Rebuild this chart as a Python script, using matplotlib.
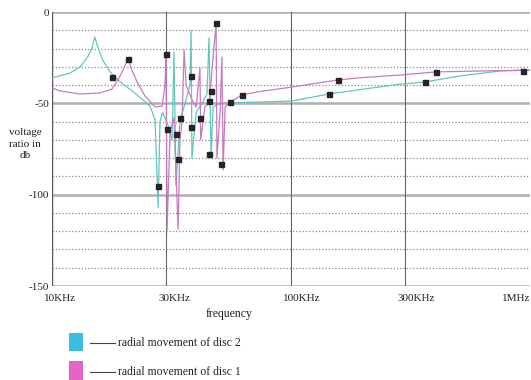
import matplotlib
matplotlib.use('Agg')
from matplotlib import pyplot as plt
from matplotlib.patches import Rectangle
from matplotlib.lines import Line2D

plt.rcParams['font.family'] = ['Liberation Serif', 'DejaVu Serif']

# radial movement of disc 2 (cyan), frequency in kHz, level in dB
disc2_khz = [10, 11.9, 13.1, 14.1, 14.7, 15.1, 15.6, 16.3, 17.5, 19.3, 22.2, 25.7, 27.0, 27.8,
             28.3, 29.0, 30.6, 31.8, 32.4, 33.0, 34.3, 36.4, 37.8, 38.2, 38.5, 40.1, 42.4, 44.5,
             45.4, 46.3, 47.2, 50.5, 55.6, 62.4, 74.2, 100.9, 144, 194, 286, 364, 509, 749, 1000]
disc2_db = [-36.1, -33.4, -30.1, -24.6, -19.7, -13.7, -19.7, -26.3, -32.8, -38.3, -44.3, -51.5,
            -59.1, -107.0, -60.0, -55.0, -62.0, -70.0, -22.0, -94.7, -60.0, -48.0, -40.0, -9.9,
            -80.0, -55.0, -50.0, -45.0, -14.2, -79.9, -52.0, -50.0, -49.8, -49.5, -49.3, -48.7,
            -44.9, -42.5, -39.5, -38.3, -35.0, -32.3, -31.8]

# radial movement of disc 1 (magenta)
disc1_khz = [10, 10.8, 13.1, 15.9, 17.8, 18.9, 19.8, 20.8, 21.6, 22.7, 24.5, 27.0, 28.9, 29.7,
             30.0, 30.3, 31.2, 32.4, 33.7, 34.3, 35.0, 35.7, 36.4, 38.5, 40.1, 41.6, 41.9, 43.6,
             45.4, 48.6, 49.0, 50.5, 51.4, 52.0, 53.0, 55.6, 62.4, 74.2, 100.9, 157, 194, 286,
             404, 618, 1000]
disc1_db = [-41.6, -43.2, -44.9, -44.3, -42.2, -37.2, -31.8, -25.7, -31.8, -38.3, -46.0, -52.0,
            -51.5, -40.0, -23.0, -119.3, -65.0, -58.0, -119.0, -70.0, -60.0, -20.8, -40.0, -48.0,
            -52.0, -30.5, -70.1, -52.0, -50.0, -6.0, -80.0, -55.0, -24.6, -86.5, -52.0, -49.3,
            -45.4, -43.5, -41.1, -37.2, -36.0, -34.5, -32.8, -32.3, -31.8]

# black square points
pts_khz = [17.8, 20.8, 30.0, 27.8, 30.3, 33.0, 33.7, 34.3, 38.2, 38.2, 41.6, 45.4, 46.3, 45.4,
           48.6, 50.9, 55.6, 62.4, 157, 144, 404, 364, 935]
pts_db = [-35.6, -25.7, -23.0, -95.2, -64.0, -66.8, -80.5, -58.0, -35.0, -63.0, -58.0, -48.7,
          -43.2, -77.7, -6.0, -83.2, -49.3, -45.4, -37.2, -44.9, -32.8, -38.3, -32.3]

x_ticks = [10, 30, 100, 300, 1000]
x_labels = ['10KHz', '30KHz', '100KHz', '300KHz', '1MHz']
y_ticks = [0, -50, -100, -150]
y_minor = [-10, -20, -30, -40, -60, -70, -80, -90, -110, -120, -130, -140]

txt = '#222222'
fig = plt.figure(figsize=(5.31, 3.80), dpi=100)
ax = fig.add_axes([52 / 531, 1 - 286 / 380, 478 / 531, 274 / 380])
ax.set_xscale('log')
ax.set_xlim(10, 1000)
ax.set_ylim(-150, 0)
for s in ax.spines.values():
    s.set_visible(False)

for y in y_minor:
    ax.axhline(y, color='#8a8a8a', lw=0.9, ls=(0, (1, 1.6)), zorder=1)
for y in y_ticks:
    ax.axhline(y, color='#b0b0b0', lw=1.8, zorder=1)
ax.axvline(10, color='#555555', lw=1.0, zorder=1)
for xv in [30, 100, 300]:
    ax.axvline(xv, color='#666666', lw=0.8, zorder=1)

ax.plot(disc2_khz, disc2_db, color='#62c6bd', lw=0.9, zorder=3)
ax.plot(disc1_khz, disc1_db, color='#c77ac0', lw=0.9, zorder=3)
ax.plot(pts_khz, pts_db, 's', color='#252525', ms=3.6, zorder=4)

ax.set_xticks([])
ax.set_yticks(y_ticks)
ax.set_yticklabels(['0', '-50', '-100', '-150'], fontsize=8, color=txt)
ax.tick_params(axis='y', length=0, pad=2)
ax.minorticks_off()

for f, lbl in zip(x_ticks, x_labels):
    ha = 'right' if f == 1000 else 'left'
    dx = 0 if f == 1000 else -8
    ax.annotate(lbl, xy=(f, 0), xycoords=('data', 'axes fraction'), xytext=(dx, -8),
                textcoords='offset pixels', ha=ha, va='top', fontsize=8, color=txt,
                annotation_clip=False)

fig.text(229 / 531, 1 - 314 / 380, 'frequency', ha='center', va='center', fontsize=8.5, color=txt)
fig.text(25 / 531, 1 - 144 / 380, 'voltage\nratio in\ndb', ha='center', va='center',
         fontsize=8, color=txt, linespacing=1.4)

# legend
fig.add_artist(Rectangle((69 / 531, 1 - 351 / 380), 14 / 531, 18 / 380,
                         transform=fig.transFigure, color='#3fbde0', lw=0))
fig.add_artist(Rectangle((69 / 531, 1 - 380 / 380), 14 / 531, 19 / 380,
                         transform=fig.transFigure, color='#e564c4', lw=0))
for yp, lbl in [(343, 'radial movement of disc 2'), (372, 'radial movement of disc 1')]:
    yf = 1 - yp / 380
    fig.add_artist(Line2D([90 / 531, 115 / 531], [yf, yf], transform=fig.transFigure,
                          color='#444444', lw=0.8))
    fig.text(118 / 531, yf, lbl, ha='left', va='center', fontsize=8.5, color=txt)

fig.savefig('out.png', dpi=100)
